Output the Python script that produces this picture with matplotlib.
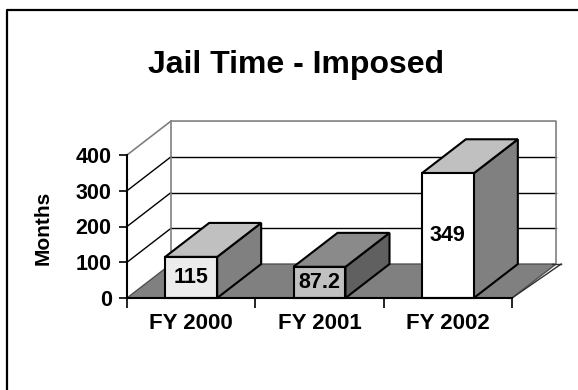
import matplotlib
matplotlib.use("Agg")
import matplotlib.pyplot as plt
from matplotlib.patches import Polygon, Rectangle
from matplotlib.lines import Line2D

categories = ["FY 2000", "FY 2001", "FY 2002"]
months = [115, 87.2, 349]
y_ticks = [0, 100, 200, 300, 400]

# face colours for each bar: front, top, right side
front_colors = ["#ececec", "#c0c0c0", "#ffffff"]
top_colors = ["#c0c0c0", "#8a8a8a", "#c0c0c0"]
side_colors = ["#808080", "#606060", "#808080"]

plt.rcParams["font.family"] = ["Liberation Sans", "DejaVu Sans"]
plt.rcParams["font.weight"] = "bold"

W, H = 578, 390
fig = plt.figure(figsize=(W / 100, H / 100), dpi=100)
# front plane of the 3D box
ax = fig.add_axes([127 / W, 92 / H, 385 / W, 143 / H])
n = len(categories)
ymax = y_ticks[-1]
ax.set_xlim(0, n)
ax.set_ylim(0, ymax)

DX = 0.343   # depth offset in category units
DY = 95.0    # depth offset in months
BAR_W = 0.405

# floor
ax.add_patch(Polygon([(0, 0), (n, 0), (n + DX, DY), (DX, DY)], closed=True,
                     facecolor="#808080", edgecolor="#505050", lw=1,
                     clip_on=False, zorder=1))

# gridlines on the side wall and back wall
for t in y_ticks[1:-1]:
    ax.add_line(Line2D([0, DX], [t, t + DY], color="black", lw=1, clip_on=False, zorder=2))
    ax.add_line(Line2D([DX, n + DX], [t + DY, t + DY], color="black", lw=1, clip_on=False, zorder=2))

# wall outline
wall_kw = dict(color="#808080", lw=1.2, clip_on=False, zorder=2)
ax.add_line(Line2D([0, DX, n + DX, n + DX], [ymax, ymax + DY, ymax + DY, DY], **wall_kw))
ax.add_line(Line2D([DX, DX], [DY, ymax + DY], **wall_kw))
ax.add_line(Line2D([n, n + DX + 0.04], [0, DY], color="#303030", lw=1, clip_on=False, zorder=2))
ax.add_line(Line2D([n + DX - 0.03, n + DX + 0.04], [DY, DY], color="#303030", lw=1, clip_on=False, zorder=2))

# bars
edge = dict(edgecolor="black", lw=1.5, clip_on=False, zorder=3, joinstyle="miter")
for i, v in enumerate(months):
    x0 = i + 0.5 - BAR_W / 2
    x1 = x0 + BAR_W
    ax.add_patch(Polygon([(x1, 0), (x1 + DX, DY), (x1 + DX, v + DY), (x1, v)],
                         closed=True, facecolor=side_colors[i], **edge))
    ax.add_patch(Polygon([(x0, v), (x1, v), (x1 + DX, v + DY), (x0 + DX, v + DY)],
                         closed=True, facecolor=top_colors[i], **edge))
    ax.add_patch(Rectangle((x0, 0), BAR_W, v, facecolor=front_colors[i], **edge))
    label = f"{v:g}"
    ax.text(i + 0.5, v / 2, label, ha="center", va="center",
            fontsize=15.5, fontweight="bold", zorder=4)

# axes
for side in ("top", "right"):
    ax.spines[side].set_visible(False)
ax.spines["left"].set_linewidth(1.5)
ax.spines["bottom"].set_linewidth(1.5)
ax.spines["left"].set_zorder(5)
ax.spines["bottom"].set_zorder(5)
ax.patch.set_visible(False)

ax.set_yticks(y_ticks)
ax.set_yticklabels([str(t) for t in y_ticks])
ax.tick_params(axis="y", direction="out", length=6, width=1.2, pad=5, labelsize=15.5)

ax.set_xticks(range(n + 1))
ax.set_xticklabels([])
ax.set_xticks([i + 0.5 for i in range(n)], minor=True)
ax.set_xticklabels(categories, minor=True)
ax.tick_params(axis="x", which="major", direction="out", length=7, width=1.2)
ax.tick_params(axis="x", which="minor", length=0, pad=11, labelsize=16)

fig.text(43 / W, 1 - 228 / H, "Months", rotation=90, ha="center", va="center",
         fontsize=15, fontweight="bold")
fig.text(296 / W, 1 - 73 / H, "Jail Time - Imposed", ha="center", va="baseline",
         fontsize=23, fontweight="bold")

# chart border
fig.add_artist(Line2D([7 / W, 7 / W, 1.01], [-0.01, 1 - 10 / H, 1 - 10 / H],
                      transform=fig.transFigure, color="black", lw=1.6))

fig.savefig("out.png", dpi=100)
